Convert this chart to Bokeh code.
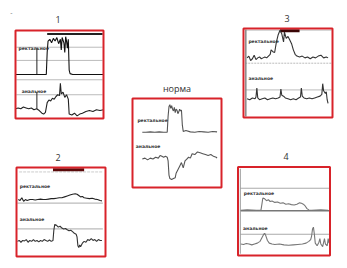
from bokeh.plotting import figure
from bokeh.models import Range1d
from bokeh.embed import file_html
from bokeh.resources import INLINE
from bokeh.core.properties import value

# ---------------- data (local panel units: t 0..100 across, v 0..100 bottom->top)
titles = ["1", "норма", "3", "2", "4"]
label_rect = "ректальное"
label_anal = "анальное"

# panel 1
p1_rect_t = [0, 10, 20, 30, 35, 36, 37, 39, 41, 43, 45, 47, 49, 51, 52, 53, 55, 56, 57, 58, 59, 60, 61, 62, 65, 80, 100]
p1_rect_v = [50, 50, 50, 50, 50, 75, 88, 90, 86, 91, 88, 92, 85, 90, 78, 92, 86, 75, 93, 88, 80, 90, 55, 51, 50, 50, 50]
p1_anal_t = [0, 3, 6, 9, 12, 15, 18, 21, 24, 27, 30, 32, 34, 36, 38, 40, 42, 44, 46, 48, 50, 51, 52, 54, 56, 58, 60, 61, 64, 67, 70, 73, 76, 80, 84, 88, 92, 96, 100]
p1_anal_v = [11, 12, 11, 13, 12, 11, 12, 10, 11, 9, 6, 5, 7, 18, 21, 20, 23, 22, 25, 27, 26, 40, 28, 30, 24, 27, 22, 5, 4, 6, 3, 5, 6, 8, 9, 8, 10, 9, 10]

# panel "норма"
pn_rect_t = [11, 15, 20, 25, 30, 35, 39, 40, 41, 42, 43, 44, 45, 46, 47, 48, 49, 50, 51, 52, 53, 54, 55, 56, 57, 60, 65, 70, 75, 80, 85, 90, 95]
pn_rect_v = [62, 62, 62.5, 62, 62.5, 62, 62, 80, 91, 93, 89, 92, 88, 86, 90, 84, 88, 87, 83, 85, 88, 86, 87, 70, 63, 64, 62.5, 62, 63, 62.5, 62, 63, 62.5]
pn_anal_t = [11, 14, 17, 20, 23, 26, 29, 31, 33, 35, 37, 39, 40, 41, 42, 44, 46, 48, 49, 51, 53, 55, 57, 59, 61, 63, 65, 67, 70, 73, 76, 79, 82, 85, 88, 91, 94, 95]
pn_anal_v = [32, 33, 31, 33, 32, 34, 33, 36, 35, 34, 35, 34, 30, 14, 10, 9, 10, 11, 16, 20, 24, 28, 22, 30, 32, 34, 33, 38, 37, 40, 39, 38, 37, 36, 37, 35, 34, 33]

# panel 3
p3_rect_t = [4, 6, 8, 10, 12, 14, 16, 18, 20, 22, 24, 26, 28, 30, 31, 33, 35, 37, 39, 41, 43, 45, 46, 48, 50, 52, 54, 56, 58, 60, 63, 66, 69, 72, 75, 78, 81, 84, 87, 90, 93, 95]
p3_rect_v = [67, 69, 64, 66, 70, 65, 67, 68, 66, 67, 68, 67, 69, 71, 76, 74, 73, 85, 93, 98, 94, 85, 96, 89, 91, 87, 83, 76, 71, 69, 68, 69, 67, 68, 66, 68, 67, 69, 70, 67, 68, 67]
p3_anal_t = [4, 7, 10, 13, 14, 15, 16, 18, 21, 24, 27, 30, 33, 36, 39, 41, 42, 43, 45, 47, 50, 53, 56, 59, 62, 64, 65, 66, 68, 71, 74, 77, 80, 83, 86, 88, 89, 90, 92, 93, 94, 95]
p3_anal_v = [21, 20, 22, 21, 23, 33, 22, 20, 21, 22, 20, 21, 22, 21, 22, 23, 32, 25, 24, 22, 21, 20, 21, 20, 22, 23, 33, 24, 22, 21, 22, 21, 22, 23, 24, 26, 38, 30, 27, 29, 20, 16]

# panel 2
p2_rect_t = [2, 4, 6, 8, 10, 12, 15, 18, 21, 24, 27, 30, 33, 36, 39, 42, 45, 48, 51, 54, 57, 60, 63, 66, 68, 70, 72, 74, 76, 79, 82, 85, 88, 91, 94, 96]
p2_rect_v = [64, 63, 66, 62, 64, 63, 64, 64, 63.5, 64, 64.5, 64, 64, 64.5, 65, 65, 65.5, 66, 66, 67, 68, 69, 70, 70.5, 70, 68.5, 67, 67.5, 66, 65.5, 65, 65.5, 64.5, 64, 63, 62.5]
p2_anal_t = [1, 3, 5, 7, 9, 11, 13, 15, 17, 19, 21, 23, 25, 27, 29, 31, 33, 35, 37, 39, 41, 42, 43, 45, 47, 49, 51, 53, 55, 57, 59, 61, 63, 65, 67, 68, 69, 70, 71, 72, 74, 76, 78, 80, 82, 84, 86, 88, 90, 92, 94, 96]
p2_anal_v = [17, 18, 16, 18, 17.5, 19, 16, 18, 17, 19, 17, 18, 16.5, 18, 17, 19, 18, 17, 18.5, 17, 18, 30, 36, 35, 33, 34, 32, 31, 31.5, 30, 29, 29.5, 28, 26, 25, 22, 12, 10, 13, 11, 15, 17, 16, 19, 18, 20, 18, 19, 17, 19, 18, 18]

# panel 4
p4_rect_t = [3, 10, 20, 25, 26, 27, 29, 31, 33, 35, 37, 40, 43, 46, 49, 52, 55, 58, 61, 64, 67, 69, 71, 73, 75, 77, 80, 90, 98]
p4_rect_v = [51, 51.5, 51, 51.5, 58, 65, 64, 62, 63, 61, 61.5, 60, 60.5, 59, 59.5, 58, 58.5, 57.5, 57, 58, 59.5, 59, 58, 56, 53, 51.5, 51, 51.5, 51]
p4_anal_t = [3, 6, 9, 12, 15, 18, 21, 24, 26, 28, 29, 30, 32, 34, 37, 40, 45, 50, 55, 60, 65, 70, 74, 77, 79, 80, 81, 82, 83, 84, 86, 88, 89, 90, 92, 94, 95, 97, 98, 99]
p4_anal_v = [13, 12.5, 13.5, 13, 12, 13, 14, 16, 20, 24, 25, 23, 17, 14, 13, 12.5, 13, 12, 11.5, 12, 12.5, 13, 14, 16, 18, 22, 30, 32, 24, 14, 11, 15, 19, 13, 10, 19, 13, 11, 19, 14]

# ---------------- layout (canvas px)
boxes = {
    "1": (15, 30, 88, 88),
    "норма": (132, 98, 89, 89),
    "3": (243, 28, 89, 89),
    "2": (16, 167, 89, 89),
    "4": (237.5, 166.5, 92, 88.5),
}
title_pos = {"1": (57.5, 19), "норма": (176.5, 87.5), "3": (286.5, 18), "2": (57.5, 157), "4": (285.5, 155.5)}

W, H = 347, 268
p = figure(width=W, height=H, output_backend="svg", toolbar_location=None,
           x_range=Range1d(0, W), y_range=Range1d(H, 0), min_border=0)
p.axis.visible = False
p.grid.visible = False
p.outline_line_color = None
p.background_fill_color = "white"
p.border_fill_color = "white"


def X(key, t):
    x0, y0, w, h = boxes[key]
    return [x0 + ti / 100.0 * w for ti in t]


def Y(key, v):
    x0, y0, w, h = boxes[key]
    return [y0 + h * (1 - vi / 100.0) for vi in v]


def hline(key, v, t0=1, t1=99, color="#bbbbbb", width=1, dash="solid"):
    p.line(X(key, [t0, t1]), Y(key, [v, v]), line_color=color, line_width=width, line_dash=dash)


def vline(key, t, v0, v1, color="#222222", width=1):
    p.line(X(key, [t, t]), Y(key, [v0, v1]), line_color=color, line_width=width)


def label(key, t, v, txt):
    p.text(X(key, [t]), Y(key, [v]), text=[txt], text_font=value("DejaVu Sans"),
           text_font_size="4.5px", text_font_style="bold", text_color="#333333",
           text_baseline="middle", text_align="left")


# grid / markers
for v in [81, 66, 44, 27]:
    hline("1", v)
hline("1", 96, 36, 99, color="#222222", width=2)
vline("1", 24.3, 80, 50)
vline("1", 24.3, 30, 11)

hline("3", 98, 2, 99, color="#cccccc")
hline("3", 61, 2, 99, color="#bbbbbb", dash="2 1")
hline("3", 31, 2, 99, color="#bbbbbb")
hline("3", 97.5, 41, 63, color="#3a0505", width=3)
vline("3", 2.6, 1, 99, color="#888888", width=1.5)

hline("2", 95, 3, 97, color="#cccccc", dash="3 1")
hline("2", 60, 1, 97, color="#aaaaaa")
hline("2", 31, 1, 97, color="#aaaaaa")
hline("2", 97.5, 41, 76, color="#5a0a0a", width=3)

hline("4", 76, 2.5, 99, color="#aaaaaa")
hline("4", 50.5, 2.5, 99, color="#777777", width=1.5)
hline("4", 24, 2.5, 99, color="#aaaaaa")
vline("4", 2.5, 2, 98, color="#999999", width=1)

# traces
traces = [
    ("1", p1_rect_t, p1_rect_v, "#111111"), ("1", p1_anal_t, p1_anal_v, "#222222"),
    ("норма", pn_rect_t, pn_rect_v, "#555555"), ("норма", pn_anal_t, pn_anal_v, "#555555"),
    ("3", p3_rect_t, p3_rect_v, "#333333"), ("3", p3_anal_t, p3_anal_v, "#333333"),
    ("2", p2_rect_t, p2_rect_v, "#222222"), ("2", p2_anal_t, p2_anal_v, "#333333"),
    ("4", p4_rect_t, p4_rect_v, "#777777"), ("4", p4_anal_t, p4_anal_v, "#777777"),
]
for key, t, v, c in traces:
    p.line(X(key, t), Y(key, v), line_color=c, line_width=1.1)

# labels
label("1", 3.5, 80, label_rect)
label("1", 7, 31, label_anal)
label("норма", 5.5, 75, label_rect)
label("норма", 3.7, 45.7, label_anal)
label("3", 5.5, 85, label_rect)
label("3", 5.6, 44, label_anal)
label("2", 3.7, 79, label_rect)
label("2", 3.7, 42, label_anal)
label("4", 6.2, 70, label_rect)
label("4", 5.5, 30, label_anal)

# red boxes
for key in titles:
    x0, y0, w, h = boxes[key]
    p.quad(left=[x0], right=[x0 + w], top=[y0], bottom=[y0 + h],
           fill_color=None, line_color="#d8232a", line_width=2)

# titles
for key in titles:
    tx, ty = title_pos[key]
    p.text([tx], [ty], text=[key], text_font=value("Open Sans"), text_font_size="9px",
           text_color="#333333", text_align="center", text_baseline="middle")

p.text([11], [12], text=["-"], text_font=value("Open Sans"), text_font_size="7px",
       text_color="#777777", text_align="center", text_baseline="middle")

open("out.html", "w").write(file_html(p, INLINE))
